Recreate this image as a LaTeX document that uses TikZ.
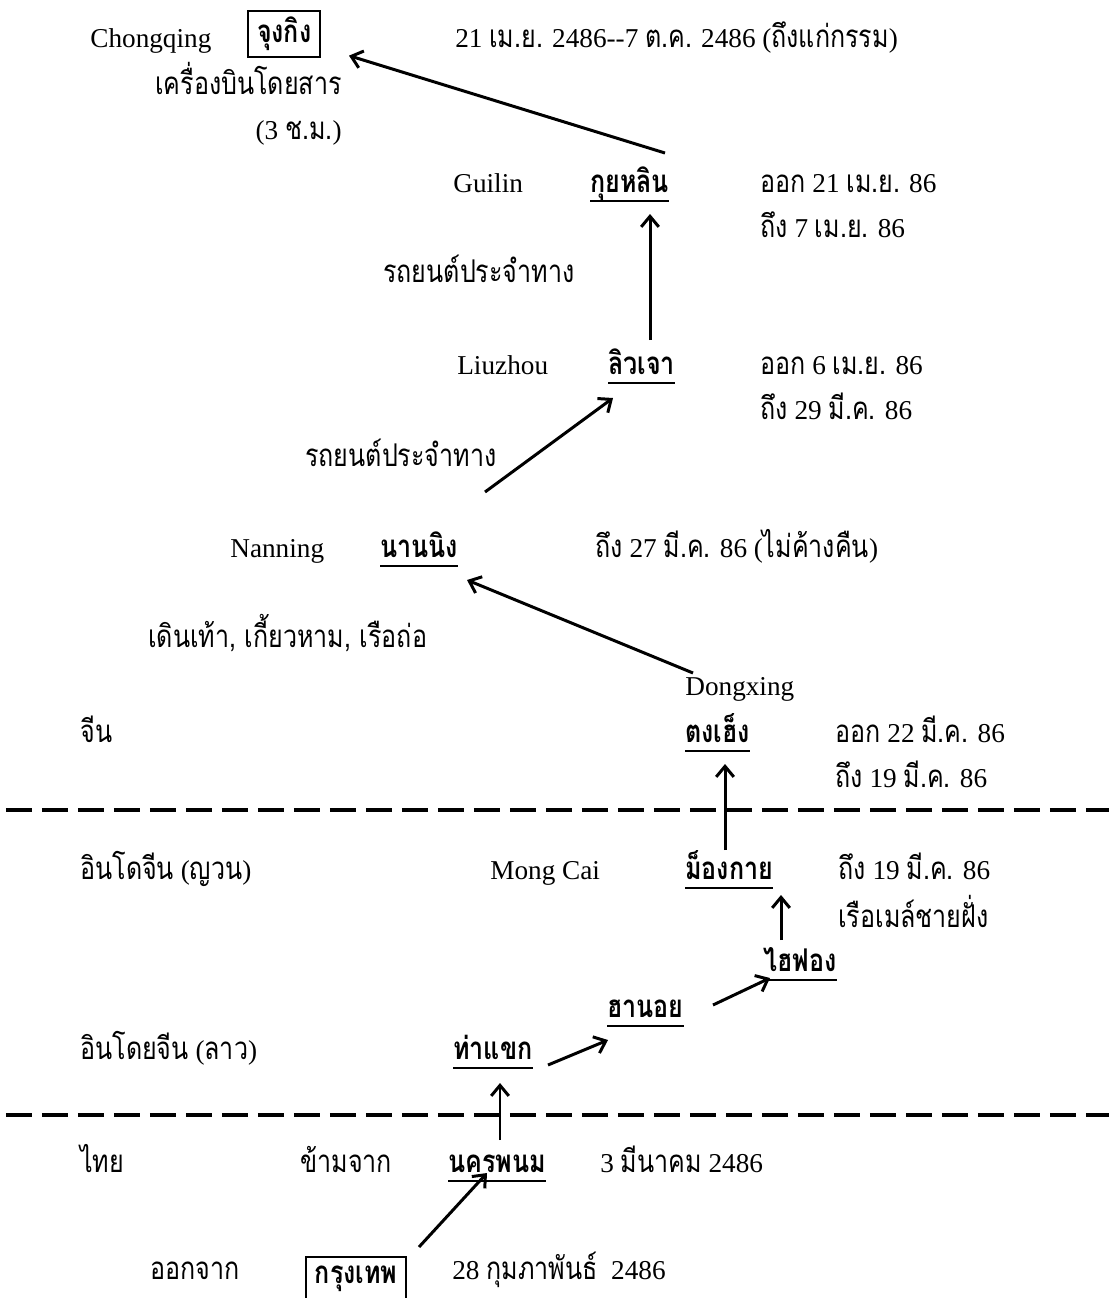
\documentclass[tikz,border=0pt]{standalone}
\usepackage{fontspec}
\setmainfont{Liberation Serif}
\newfontfamily\thaifont[Script=Thai,Scale=1.15,FakeStretch=0.8]{Loma}
\usetikzlibrary{arrows.meta,calc,positioning}

\newcommand{\tf}[1]{{\thaifont #1}}

\tikzset{
  txt/.style={anchor=base west, inner sep=0pt, font=\fontsize{15.5}{18}\selectfont},
  place/.style={anchor=base west, inner xsep=0pt, inner ysep=0pt, text depth=5pt,
    font=\fontsize{15.5}{18}\selectfont\thaifont\bfseries},
  boxed/.style={draw, line width=1pt, inner xsep=5pt, minimum height=0.86cm,
    font=\fontsize{15.5}{18}\selectfont\thaifont\bfseries},
  route/.style={-{Straight Barb[length=6pt,width=10pt]}, line width=1.7pt},
  uline/.style={line width=1.3pt},
  border/.style={line width=2pt, dash pattern=on 0.52cm off 0.2cm, dash phase=-0.12cm}
}

\begin{document}
\begin{tikzpicture}[x=0.02cm, y=-0.02cm]
  \useasboundingbox (0,0) rectangle (1109,1298);

  % Chongqing
  \node[txt] (chongqingEn) at (90,47) {Chongqing};
  \node[boxed, anchor=east] (jung) at (321,34) {จุงกิง};
  \node[txt] (endDate) at (455,47) {21 \tf{เม.ย.} 2486-{}-7 \tf{ต.ค.} 2486 (\tf{ถึงแก่กรรม})};
  \node[txt, anchor=base east] (plane) at (342,94) {\tf{เครื่องบินโดยสาร}};
  \node[txt, anchor=base east] (hours) at (342,139) {(3 \tf{ช.ม.})};

  % Guilin
  \node[txt] (guilinEn) at (453,192) {Guilin};
  \node[place] (guilin) at (590,192) {กุยหลิน};
  \node[txt] (guilinOut) at (760,192) {\tf{ออก} 21 \tf{เม.ย.} 86};
  \node[txt] (guilinIn) at (760,237) {\tf{ถึง} 7 \tf{เม.ย.} 86};
  \node[txt] (busA) at (383,282) {\tf{รถยนต์ประจำทาง}};

  % Liuzhou
  \node[txt] (liuzhouEn) at (457,374) {Liuzhou};
  \node[place] (liuzhou) at (608,374) {ลิวเจา};
  \node[txt] (liuzhouOut) at (760,374) {\tf{ออก} 6 \tf{เม.ย.} 86};
  \node[txt] (liuzhouIn) at (760,419) {\tf{ถึง} 29 \tf{มี.ค.} 86};
  \node[txt] (busB) at (305,466) {\tf{รถยนต์ประจำทาง}};

  % Nanning
  \node[txt] (nanningEn) at (230,557) {Nanning};
  \node[place] (nanning) at (380,557) {นานนิง};
  \node[txt] (nanningIn) at (595,557) {\tf{ถึง} 27 \tf{มี.ค.} 86 (\tf{ไม่ค้างคืน})};
  \node[txt] (foot) at (148,647) {\tf{เดินเท้า, เกี้ยวหาม, เรือถ่อ}};

  % Dongxing
  \node[txt] (dongxingEn) at (685,695) {Dongxing};
  \node[txt] (china) at (80,742) {\tf{จีน}};
  \node[place] (dongxing) at (685,742) {ตงเฮ็ง};
  \node[txt] (dongxingOut) at (835,742) {\tf{ออก} 22 \tf{มี.ค.} 86};
  \node[txt] (dongxingIn) at (835,787) {\tf{ถึง} 19 \tf{มี.ค.} 86};

  \draw[border] (0,810) -- (1109,810);

  % Indochina
  \node[txt] (vietnam) at (80,879) {\tf{อินโดจีน} (\tf{ญวน})};
  \node[txt] (mongcaiEn) at (490,879) {Mong Cai};
  \node[place] (mongcai) at (685,879) {ม็องกาย};
  \node[txt] (mongcaiIn) at (838,879) {\tf{ถึง} 19 \tf{มี.ค.} 86};
  \node[txt] (ship) at (838,927) {\tf{เรือเมล์ชายฝั่ง}};
  \node[place] (haiphong) at (763,971) {ไฮฟอง};
  \node[place] (hanoi) at (607,1017) {ฮานอย};
  \node[txt] (laos) at (80,1059) {\tf{อินโดยจีน} (\tf{ลาว})};
  \node[place] (thakhek) at (453,1059) {ท่าแขก};

  \draw[border] (0,1115) -- (1109,1115);

  % Thailand
  \node[txt] (thai) at (80,1172) {\tf{ไทย}};
  \node[txt] (cross) at (300,1172) {\tf{ข้ามจาก}};
  \node[place] (nakhon) at (448,1172) {นครพนม};
  \node[txt] (nakhonDate) at (600,1172) {3 \tf{มีนาคม} 2486};
  \node[txt] (leave) at (150,1279) {\tf{ออกจาก}};
  \node[boxed, anchor=north east] (bangkok) at (407,1256) {กรุงเทพ};
  \node[txt] (bangkokDate) at (452,1279) {28 \tf{กุมภาพันธ์}\ \ 2486};

  \foreach \n in {guilin,liuzhou,nanning,dongxing,mongcai,haiphong,hanoi,thakhek,nakhon}
    \draw[uline] (\n.south west) -- (\n.south east);

  % route
  \draw[route] ($(bangkok.north east)+(12,-9)$) -- ($(nakhon.base west)+(39,1)$);
  \draw[route] ($(nakhon.base west)+(52,-32)$) -- ($(thakhek.base west)+(47,24)$);
  \draw[route] ($(thakhek.base west)+(95,6)$) -- ($(hanoi.base west)+(1,23)$);
  \draw[route] ($(hanoi.base west)+(106,-12)$) -- ($(haiphong.base west)+(7,7)$);
  \draw[route] ($(haiphong.base west)+(18,-31)$) -- ($(mongcai.base west)+(96,16)$);
  \draw[route] ($(mongcai.base west)+(40,-29)$) -- ($(dongxing.base west)+(40,22)$);
  \draw[route] ($(dongxingEn.base west)+(8,-22)$) -- ($(nanning.base west)+(87,23)$);
  \draw[route] ($(nanning.base west)+(105,-65)$) -- ($(liuzhou.base west)+(5,24)$);
  \draw[route] ($(liuzhou.base west)+(42,-34)$) -- ($(guilin.base west)+(60,22)$);
  \draw[route] ($(guilin.base west)+(75,-39)$) -- ($(jung.south east)+(28,-2)$);
\end{tikzpicture}
\end{document}
